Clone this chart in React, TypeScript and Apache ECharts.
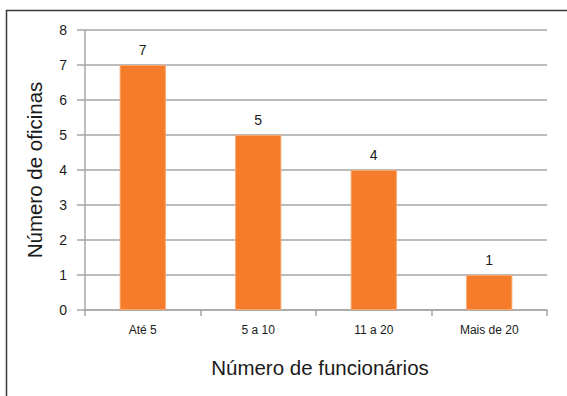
import React, { useEffect, useRef } from "react";
import * as echarts from "echarts";

const categories = ["Até 5", "5 a 10", "11 a 20", "Mais de 20"];
const oficinas = [7, 5, 4, 1];
const yTicks = [0, 8, 1]; // min, max, interval

const FONT = "'Liberation Sans', Arial, Helvetica, sans-serif";

export default function App() {
  const ref = useRef<HTMLDivElement>(null);

  useEffect(() => {
    if (!ref.current) return;
    const chart = echarts.init(ref.current, null, { renderer: "svg" });
    chart.setOption({
      animation: false,
      backgroundColor: "#ffffff",
      textStyle: { fontFamily: FONT },
      graphic: [
        {
          type: "rect",
          shape: { x: 6.5, y: 10.5, width: 600, height: 420 },
          style: { fill: "none", stroke: "#3a3a3a", lineWidth: 1.5 },
          silent: true,
        },
      ],
      grid: { left: 85, top: 30, right: 20, bottom: 86 },
      xAxis: {
        type: "category",
        data: categories,
        name: "Número de funcionários",
        nameLocation: "middle",
        nameGap: 47,
        nameTextStyle: { fontSize: 20.5, color: "#1a1a1a", fontFamily: FONT, padding: [0, 0, 0, 8] },
        axisLine: { show: true, lineStyle: { color: "#a6a6a6", width: 1.5 } },
        axisTick: { show: true, alignWithLabel: false, length: 6, lineStyle: { color: "#a6a6a6", width: 1.5 } },
        axisLabel: { fontSize: 12, color: "#1a1a1a", margin: 14, fontFamily: FONT },
        splitLine: { show: false },
      },
      yAxis: {
        type: "value",
        min: yTicks[0],
        max: yTicks[1],
        interval: yTicks[2],
        name: "Número de oficinas",
        nameLocation: "middle",
        nameGap: 40,
        nameTextStyle: { fontSize: 20.5, color: "#1a1a1a", fontFamily: FONT },
        axisLine: { show: true, lineStyle: { color: "#a6a6a6", width: 1.5 } },
        axisTick: { show: true, inside: false, length: 8, lineStyle: { color: "#a6a6a6", width: 1.5 } },
        axisLabel: { fontSize: 14, color: "#1a1a1a", margin: 18, fontFamily: FONT },
        splitLine: { show: true, lineStyle: { color: "#a6a6a6", width: 1.5 } },
      },
      series: [
        {
          type: "bar",
          data: oficinas,
          barWidth: "40%",
          itemStyle: { color: "#F47C2A", borderColor: "#F8A56C", borderWidth: 1 },
          label: {
            show: true,
            position: "top",
            distance: 8,
            fontSize: 14,
            color: "#1a1a1a",
            fontFamily: FONT,
          },
        },
      ],
    });
    return () => chart.dispose();
  }, []);

  return (
    <div
      ref={ref}
      style={{ position: "fixed", left: 0, top: 0, width: 567, height: 396 }}
    />
  );
}
